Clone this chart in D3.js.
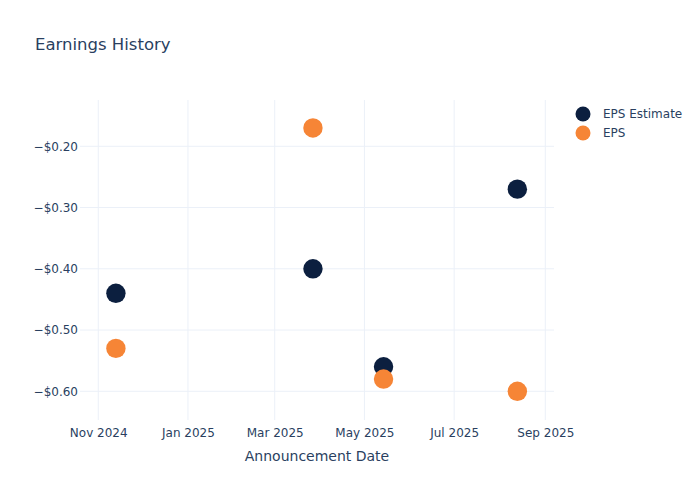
<!DOCTYPE html>
<html>
<head>
<meta charset="utf-8">
<script src="https://cdn.jsdelivr.net/npm/d3@7"></script>
<style>
  body { margin: 0; background: #fff; }
  svg { font-family: "DejaVu Sans", sans-serif; }
</style>
</head>
<body>
<svg id="chart" width="700" height="500"></svg>
<script>
const dates = ["2024-11-13", "2025-03-27", "2025-05-14", "2025-08-13"];
const epsEstimate = [-0.44, -0.40, -0.56, -0.27];
const epsActual = [-0.53, -0.17, -0.58, -0.60];
const seriesNames = ["EPS Estimate", "EPS"];
const seriesColors = ["#0c1f3f", "#f68536"];
const yTicks = [-0.6, -0.5, -0.4, -0.3, -0.2];
const xDomain = ["2024-10-19T14:00", "2025-09-06T22:00"];
const yDomain = [-0.6469, -0.1244];

const parse = d3.isoParse;
const svg = d3.select("#chart");
const W = 700, H = 500;
const m = { l: 80, r: 146, t: 100, b: 80 };
const textColor = "#2a3f5f";
const gridColor = "#ebf0f8";

svg.append("rect").attr("width", W).attr("height", H).attr("fill", "#fff");

const x = d3.scaleTime().domain(xDomain.map(d => new Date(d))).range([m.l, W - m.r]);
const y = d3.scaleLinear().domain(yDomain).range([H - m.b, m.t]);

// grid
const xTickVals = d3.timeMonth.every(2).range(x.domain()[0], x.domain()[1]);
svg.append("g").selectAll("line").data(xTickVals).join("line")
  .attr("x1", d => x(d)).attr("x2", d => x(d))
  .attr("y1", m.t).attr("y2", H - m.b)
  .attr("stroke", gridColor).attr("stroke-width", 1);
svg.append("g").selectAll("line").data(yTicks).join("line")
  .attr("x1", m.l).attr("x2", W - m.r)
  .attr("y1", d => y(d)).attr("y2", d => y(d))
  .attr("stroke", gridColor).attr("stroke-width", 1);

// x axis
const xAxis = d3.axisBottom(x).tickValues(xTickVals).tickFormat(d3.timeFormat("%b %Y")).tickSize(0).tickPadding(8);
const gx = svg.append("g").attr("transform", `translate(0,${H - m.b})`).call(xAxis);
gx.select(".domain").remove();
gx.selectAll("text").attr("fill", textColor).attr("font-size", 12).attr("font-family", "DejaVu Sans, sans-serif");

// y axis
const fmtY = v => (v < 0 ? "\u2212" : "") + "$" + Math.abs(v).toFixed(2);
const yAxis = d3.axisLeft(y).tickValues(yTicks).tickFormat(fmtY).tickSize(0).tickPadding(2);
const gy = svg.append("g").attr("transform", `translate(${m.l},0)`).call(yAxis);
gy.select(".domain").remove();
gy.selectAll("text").attr("fill", textColor).attr("font-size", 12).attr("font-family", "DejaVu Sans, sans-serif");

// title
svg.append("text").attr("x", 35).attr("y", 50).attr("fill", textColor)
  .attr("font-size", 16.5).text("Earnings History");

// axis title
svg.append("text").attr("x", (m.l + W - m.r) / 2).attr("y", 461).attr("text-anchor", "middle")
  .attr("fill", textColor).attr("font-size", 14).text("Announcement Date");

// points
const series = [epsEstimate, epsActual];
series.forEach((vals, i) => {
  svg.append("g").selectAll("circle").data(vals.map((v, j) => ({ d: parse(dates[j]), v })))
    .join("circle")
    .attr("cx", d => x(d.d)).attr("cy", d => y(d.v))
    .attr("r", 9.7).attr("fill", seriesColors[i]);
});

// legend
const lg = svg.append("g");
seriesNames.forEach((name, i) => {
  const yy = 114 + i * 19;
  lg.append("circle").attr("cx", 583).attr("cy", yy).attr("r", 7.5).attr("fill", seriesColors[i]);
  lg.append("text").attr("x", 603).attr("y", yy + 4.2).attr("fill", textColor)
    .attr("font-size", 12).text(name);
});
</script>
</body>
</html>
